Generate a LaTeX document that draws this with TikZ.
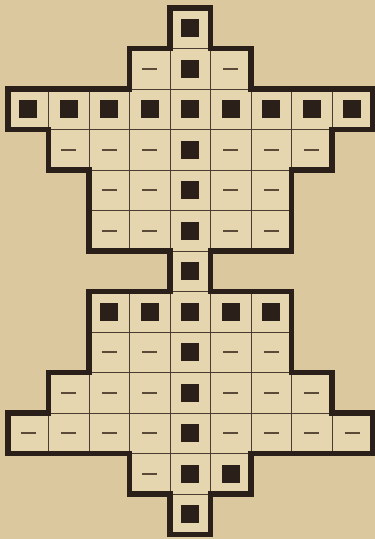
\documentclass[tikz,border=0pt]{standalone}
\definecolor{paper}{HTML}{DCC89E}
\definecolor{cellbg}{HTML}{E6D6B0}
\definecolor{ink}{HTML}{2A1F19}
\definecolor{gridink}{HTML}{4A3C30}
\definecolor{dashink}{HTML}{5C4A38}
\tikzset{
  gridline/.style={draw=gridink, line width=0.6pt},
  outline/.style={draw=ink, line width=3.6pt, line join=miter},
  dashmark/.style={draw=dashink, line width=1.3pt},
  blacksq/.style={fill=ink}
}
\begin{document}
\begin{tikzpicture}[x=1cm,y=-1cm]
\useasboundingbox (-0.198,-0.198) rectangle (9.061,13.111);
\fill[paper] (-0.198,-0.198) rectangle (9.061,13.111);
\foreach \r/\cells in {
  0/{4/B},
  1/{3/D,4/B,5/D},
  2/{0/B,1/B,2/B,3/B,4/B,5/B,6/B,7/B,8/B},
  3/{1/D,2/D,3/D,4/B,5/D,6/D,7/D},
  4/{2/D,3/D,4/B,5/D,6/D},
  5/{2/D,3/D,4/B,5/D,6/D},
  6/{4/B},
  7/{2/B,3/B,4/B,5/B,6/B},
  8/{2/D,3/D,4/B,5/D,6/D},
  9/{1/D,2/D,3/D,4/B,5/D,6/D,7/D},
  10/{0/D,1/D,2/D,3/D,4/B,5/D,6/D,7/D,8/D},
  11/{3/D,4/B,5/B},
  12/{4/B}}{
  \foreach \c/\t in \cells {
    \fill[cellbg] (\c,\r) rectangle ++(1,1);
    \draw[gridline] (\c,\r) rectangle ++(1,1);
    \if\t B
      \fill[blacksq] (\c+0.28,\r+0.28) rectangle ++(0.44,0.44);
    \else
      \draw[dashmark] (\c+0.31,\r+0.5) -- ++(0.38,0);
    \fi
  }
}
\draw[outline] (4,0) -- (5,0) -- (5,1) -- (6,1) -- (6,2) -- (9,2) -- (9,3) -- (8,3)
  -- (8,4) -- (7,4) -- (7,6) -- (5,6) -- (5,7) -- (7,7) -- (7,9) -- (8,9) -- (8,10)
  -- (9,10) -- (9,11) -- (6,11) -- (6,12) -- (5,12) -- (5,13) -- (4,13) -- (4,12)
  -- (3,12) -- (3,11) -- (0,11) -- (0,10) -- (1,10) -- (1,9) -- (2,9) -- (2,7)
  -- (4,7) -- (4,6) -- (2,6) -- (2,4) -- (1,4) -- (1,3) -- (0,3) -- (0,2) -- (3,2)
  -- (3,1) -- (4,1) -- cycle;
\end{tikzpicture}
\end{document}
